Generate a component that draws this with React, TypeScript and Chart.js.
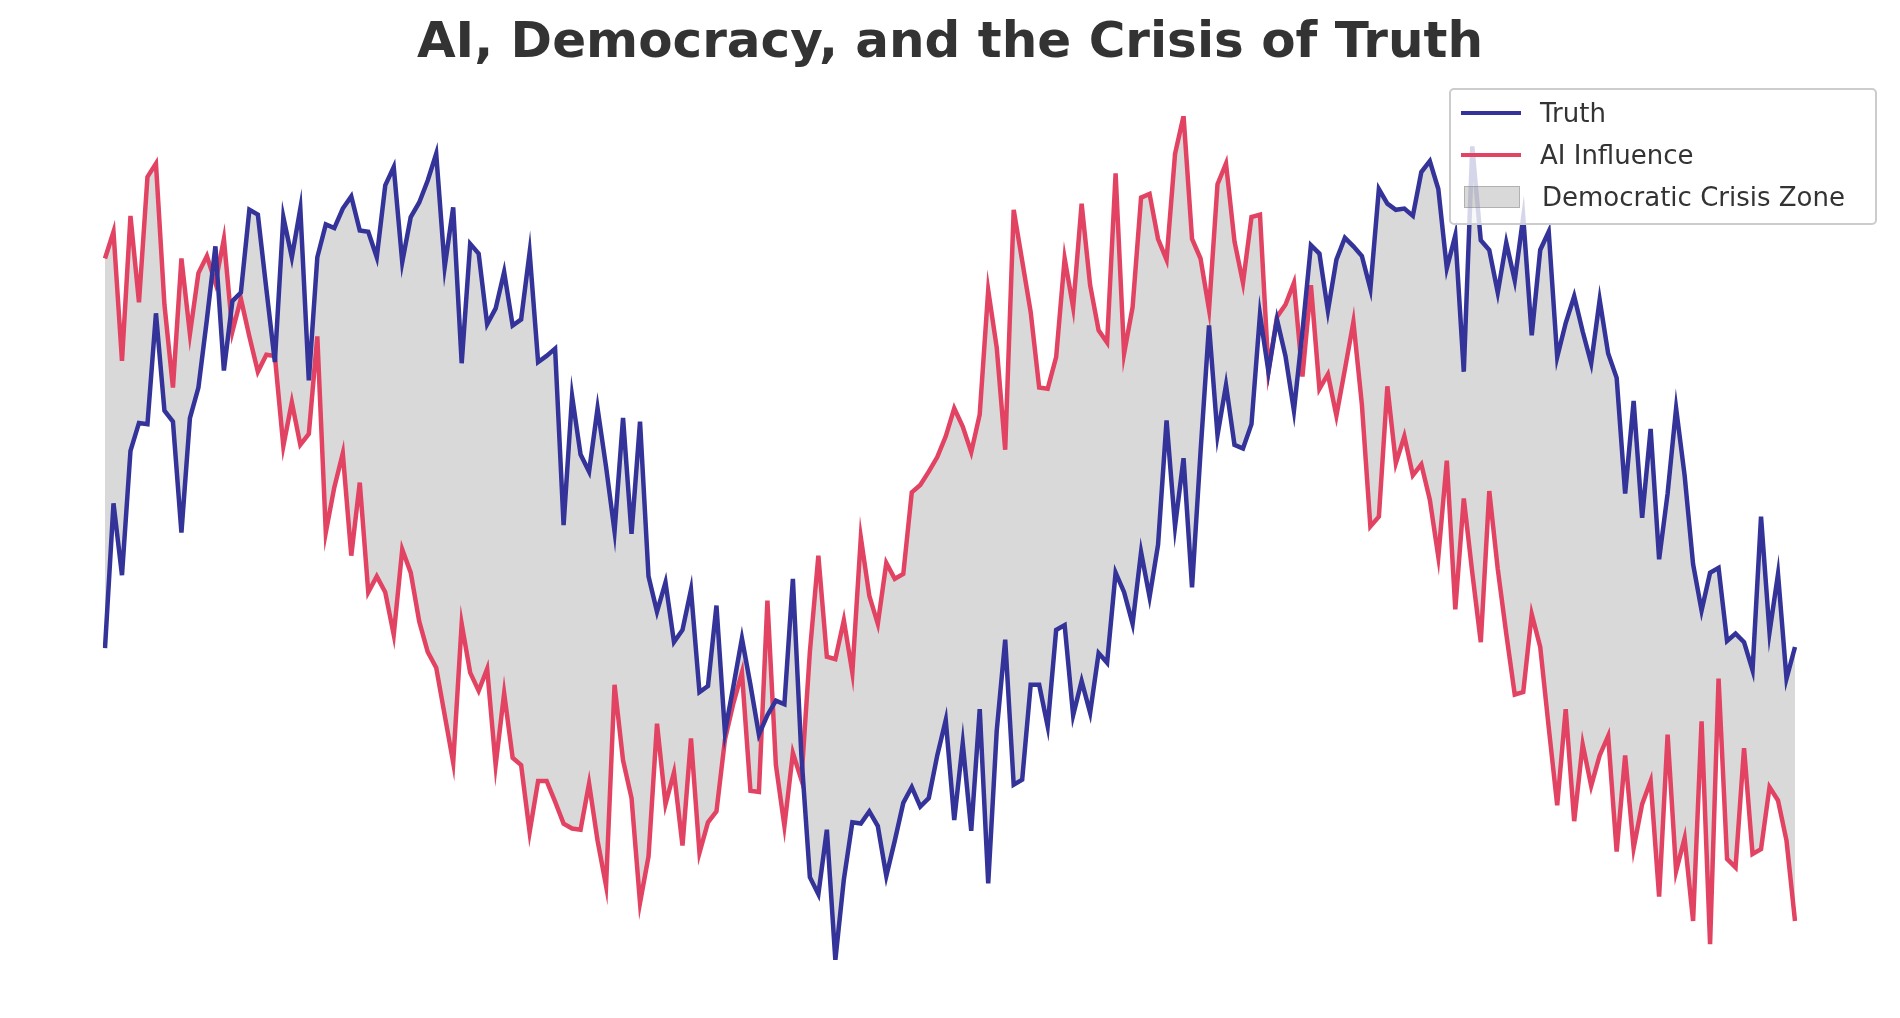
import React, { useEffect, useRef } from "react";
import { Chart, registerables } from "chart.js";
Chart.register(...registerables);

const truth = [532,413,472,370,347,348,257,337,346,437,343,318,262,202,304,247,240,172,176,237,297,178,211,171,312,211,184,187,171,161,189,190,211,152,137,215,178,166,148,126,219,170,298,200,208,266,253,223,267,262,207,297,292,286,431,325,373,387,335,383,436,343,438,346,473,502,478,527,517,484,568,563,497,601,563,524,562,603,587,575,578,475,620,720,734,681,788,722,675,676,666,678,719,690,659,646,662,655,620,591,673,610,682,582,725,600,525,644,640,562,562,596,517,513,587,559,585,536,544,470,486,512,453,490,447,345,432,376,482,371,267,357,316,365,368,348,258,305,262,292,337,272,201,208,255,213,195,202,210,237,155,167,172,171,177,141,132,155,220,193,305,120,197,205,240,199,230,178,275,205,190,293,265,243,272,298,246,290,310,405,329,425,352,459,405,335,390,463,501,470,466,526,520,527,550,424,519,471,557,531];
const aiInfluence = [212,190,296,177,248,145,134,250,318,212,274,224,210,232,196,272,245,276,305,291,292,366,330,365,356,276,437,400,372,456,396,486,473,486,521,451,470,510,535,548,587,626,512,552,567,549,628,569,622,628,683,641,641,658,676,680,681,643,690,727,562,624,655,741,703,594,660,634,694,606,700,675,666,607,577,552,649,650,493,628,678,618,640,535,456,539,541,509,552,441,489,512,462,475,471,404,398,387,375,358,335,350,371,340,238,285,369,172,214,256,318,319,293,212,252,167,234,271,281,142,290,252,162,159,196,213,126,95,196,212,254,151,134,198,232,178,176,304,260,250,232,309,234,319,307,341,303,264,332,432,424,317,380,358,390,381,410,457,378,500,409,470,527,403,467,520,570,568,504,531,597,661,582,674,611,645,620,604,699,620,696,660,641,736,603,715,688,756,592,775,557,705,712,614,701,697,646,657,690,756];
const labels = truth.map((_, i) => String(i));
const seriesNames = ["Truth", "AI Influence", "Democratic Crisis Zone"];
const colors = ["rgb(51,51,153)", "rgb(227,67,99)", "rgba(128,128,128,0.3)"];

export default function App() {
  const ref = useRef<HTMLCanvasElement>(null);
  useEffect(() => {
    const chart = new Chart(ref.current!, {
      type: "line",
      data: {
        labels,
        datasets: [
          { label: seriesNames[0], data: truth, borderColor: colors[0], borderWidth: 4.5, pointRadius: 0, fill: false, order: 0 },
          { label: seriesNames[1], data: aiInfluence, borderColor: colors[1], borderWidth: 4.5, pointRadius: 0, fill: false, order: 1 },
          { label: seriesNames[2], data: truth, borderWidth: 0, borderColor: "rgba(0,0,0,0)", backgroundColor: colors[2], pointRadius: 0, fill: 1, order: 2 },
        ],
      },
      options: {
        animation: false,
        responsive: false,
        layout: { padding: { left: 105, right: 105, top: 116, bottom: 58 } },
        plugins: { legend: { display: false }, tooltip: { enabled: false } },
        scales: {
          x: { display: false, offset: false },
          y: { display: false, reverse: true, min: 95, max: 788 },
        },
      },
    });
    return () => chart.destroy();
  }, []);
  const item = (i: number, top: number) => (
    <div style={{ position: "absolute", left: 10, top, display: "flex", alignItems: "center" }}>
      {i < 2 ? (
        <div style={{ width: 60, height: 4, background: colors[i] }} />
      ) : (
        <div style={{ width: 54, height: 20, margin: "0 3px", background: colors[2], border: "1px solid rgba(128,128,128,0.45)" }} />
      )}
      <span style={{ marginLeft: 19, fontSize: 26, color: "#333" }}>{seriesNames[i]}</span>
    </div>
  );
  return (
    <div style={{ position: "fixed", left: 0, top: 0, width: 1900, height: 1018, background: "#fff", fontFamily: "'DejaVu Sans', sans-serif" }}>
      <canvas ref={ref} width={1900} height={1018} style={{ position: "absolute", left: 0, top: 0 }} />
      <div style={{ position: "absolute", left: 0, width: 1900, top: 11, textAlign: "center", fontSize: 50, fontWeight: "bold", color: "#333" }}>
        AI, Democracy, and the Crisis of Truth
      </div>
      <div style={{ position: "absolute", left: 1449, top: 88, width: 424, height: 133, border: "2px solid #ccc", borderRadius: 5, background: "rgba(255,255,255,0.8)" }}>
        {item(0, 8)}
        {item(1, 50)}
        {item(2, 92)}
      </div>
    </div>
  );
}
